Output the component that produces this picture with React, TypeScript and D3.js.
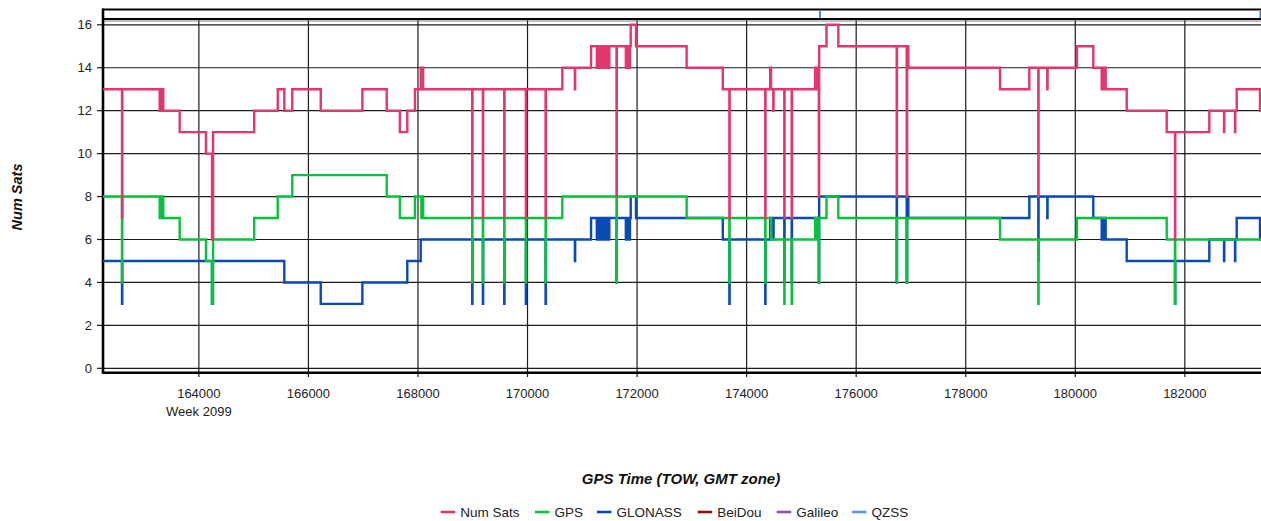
import React from 'react';
import * as d3 from 'd3';

// ---------- data ----------
const seriesNames = ['Num Sats', 'GPS', 'GLONASS', 'BeiDou', 'Galileo', 'QZSS'];
const seriesColors = ['#e0386a', '#0ac13e', '#0a4ab4', '#8b1414', '#8f4fc4', '#5f95e8'];
const yTicks = [0, 2, 4, 6, 8, 10, 12, 14, 16];
const xTicks = [164000, 166000, 168000, 170000, 172000, 174000, 176000, 178000, 180000, 182000];
const weekLabel = 'Week 2099';
const xTitle = 'GPS Time (TOW, GMT zone)';
const yTitle = 'Num Sats';

// step points [GPS time of week, satellite count]
const numSatsSteps: [number, number][] = [
  [162250, 13], [162597, 7], [162602, 13],
  [163285, 12], [163300, 13], [163315, 12], [163330, 13], [163350, 12],
  [163650, 11], [164130, 10], [164240, 6], [164260, 11],
  [165010, 12], [165440, 13], [165560, 12], [165705, 13], [166225, 12],
  [166985, 13], [167430, 12], [167670, 11], [167805, 12], [167945, 13],
  [168050, 14], [168062, 13], [168075, 14], [168095, 13],
  [168990, 7], [168995, 13], [169185, 7], [169190, 13], [169575, 7], [169580, 13],
  [169970, 7], [169975, 13], [170330, 7], [170335, 13],
  [170635, 14], [170865, 13], [170870, 14], [171160, 15],
  [171265, 14], [171290, 15], [171315, 14], [171340, 15], [171365, 14],
  [171390, 15], [171415, 14], [171440, 15], [171465, 14], [171493, 15],
  [171625, 8], [171630, 15],
  [171795, 14], [171820, 15], [171845, 14], [171870, 15],
  [171884, 16], [171980, 15], [172905, 14], [173565, 13],
  [173685, 7], [173690, 13], [174340, 7], [174345, 13],
  [174430, 14], [174445, 13], [174487, 12], [174492, 13],
  [174688, 7], [174693, 13], [174823, 7], [174828, 13],
  [175250, 14], [175265, 13], [175280, 14], [175295, 13], [175310, 14],
  [175318, 8], [175324, 15], [175458, 16], [175674, 15],
  [176740, 8], [176745, 15],
  [176922, 8], [176930, 14], [176938, 15], [176952, 14],
  [178626, 13], [179161, 14], [179325, 8], [179330, 14], [179489, 13], [179494, 14],
  [180031, 15], [180329, 14],
  [180482, 13], [180500, 14], [180518, 13], [180536, 14], [180555, 13],
  [180939, 12], [181669, 11], [181820, 6], [181825, 11],
  [182447, 12], [182715, 11], [182720, 12], [182916, 11], [182921, 12],
  [182947, 13], [183372, 12], [183500, 12],
];

const gpsSteps: [number, number][] = [
  [162250, 8], [162597, 4], [162602, 8],
  [163285, 7], [163300, 8], [163315, 7], [163330, 8], [163350, 7],
  [163650, 6], [164130, 5], [164240, 3], [164260, 6],
  [165010, 7], [165440, 8], [165705, 9], [167430, 8], [167670, 7],
  [167945, 8], [168062, 7], [168075, 8], [168095, 7],
  [168990, 4], [168995, 7], [169185, 4], [169190, 7], [169575, 4], [169580, 7],
  [169970, 4], [169975, 7], [170330, 4], [170335, 7],
  [170635, 8], [171625, 4], [171630, 8], [172905, 7],
  [173685, 4], [173690, 7], [174340, 4], [174345, 7],
  [174445, 6], [174688, 3], [174693, 6], [174823, 3], [174828, 6],
  [175250, 7], [175265, 6], [175280, 7], [175295, 6], [175310, 7],
  [175318, 4], [175324, 7], [175458, 8], [175674, 7],
  [176740, 4], [176745, 7], [176922, 4], [176930, 7],
  [178626, 6], [179325, 3], [179330, 6], [180031, 7],
  [181669, 6], [181820, 3], [181825, 6], [183500, 6],
];

const glonassSteps: [number, number][] = [
  [162250, 5], [162597, 3], [162602, 5], [164240, 3], [164245, 5],
  [165560, 4], [166225, 3], [166985, 4], [167805, 5], [168050, 6],
  [168990, 3], [168995, 6], [169185, 3], [169190, 6], [169575, 3], [169580, 6],
  [169970, 3], [169975, 6], [170330, 3], [170335, 6],
  [170865, 5], [170870, 6], [171160, 7],
  [171265, 6], [171290, 7], [171315, 6], [171340, 7], [171365, 6],
  [171390, 7], [171415, 6], [171440, 7], [171465, 6], [171493, 7],
  [171625, 4], [171630, 7],
  [171795, 6], [171820, 7], [171845, 6], [171870, 7],
  [171884, 8], [171980, 7], [173565, 6],
  [173685, 3], [173690, 6], [174340, 3], [174345, 6],
  [174430, 7], [174487, 6], [174492, 7],
  [174688, 4], [174693, 7], [174823, 4], [174828, 7],
  [175318, 4], [175324, 8],
  [176740, 4], [176745, 8], [176922, 4], [176930, 7], [176938, 8], [176952, 7],
  [179161, 8], [179325, 5], [179330, 8], [179489, 7], [179494, 8],
  [180329, 7],
  [180482, 6], [180500, 7], [180518, 6], [180536, 7], [180555, 6],
  [180939, 5], [181820, 3], [181825, 5],
  [182447, 6], [182715, 5], [182720, 6], [182916, 5], [182921, 6],
  [182947, 7], [183372, 6], [183500, 6],
];

const qzssMarks = [175340, 183380];

// ---------- layout ----------
const W = 1261;
const H = 521;
const LEFT = 103;
const RIGHT = 1267;
const TOP = 9.5;
const BOTTOM = 372.8;
const FONT = '"Liberation Sans", Arial, Helvetica, sans-serif';
const legendX = [440.7, 535, 597, 697.7, 776.7, 852];

export default function App() {
  const x = d3.scaleLinear().domain([162250, 183500]).range([LEFT, RIGHT]);
  const y = d3.scaleLinear().domain([0, 16]).range([368.3, 24.8]);
  const line = d3
    .line<[number, number]>()
    .x((d) => x(d[0]))
    .y((d) => y(d[1]))
    .curve(d3.curveStepAfter);

  const drawOrder: { data: [number, number][]; color: string }[] = [
    { data: glonassSteps, color: seriesColors[2] },
    { data: gpsSteps, color: seriesColors[1] },
    { data: numSatsSteps, color: seriesColors[0] },
  ];

  return (
    <svg
      width={W}
      height={H}
      style={{ position: 'absolute', left: 0, top: 0, background: '#fff' }}
      fontFamily={FONT}
    >
      <defs>
        <clipPath id="plotClip">
          <rect x={LEFT} y={20} width={RIGHT - LEFT} height={BOTTOM - 20} />
        </clipPath>
      </defs>

      {/* horizontal grid */}
      {yTicks.map((t) => (
        <g key={'y' + t}>
          <line x1={LEFT} x2={W} y1={y(t)} y2={y(t)} stroke="#1c1c1c" strokeWidth={1.2} />
          <line x1={97} x2={LEFT} y1={y(t)} y2={y(t)} stroke="#1c1c1c" strokeWidth={1.2} />
          <text x={92} y={y(t)} dy="0.35em" textAnchor="end" fontSize={13} fill="#222">
            {t}
          </text>
        </g>
      ))}

      {/* vertical grid */}
      {xTicks.map((t, i) => (
        <g key={'x' + t}>
          <line x1={x(t)} x2={x(t)} y1={19} y2={377} stroke="#1c1c1c" strokeWidth={1.2} />
          <text x={x(t)} y={398} textAnchor="middle" fontSize={13} fill="#222">
            {t}
          </text>
          {i === 0 && (
            <text x={x(t)} y={415.5} textAnchor="middle" fontSize={13} fill="#222">
              {weekLabel}
            </text>
          )}
        </g>
      ))}

      {/* frame */}
      <line x1={LEFT} x2={W} y1={TOP} y2={TOP} stroke="#000" strokeWidth={2.2} />
      <line x1={LEFT} x2={W} y1={19} y2={19} stroke="#000" strokeWidth={2.2} />
      <line x1={LEFT} x2={W} y1={21} y2={21} stroke="#666" strokeWidth={0.8} />
      <line x1={LEFT} x2={W} y1={BOTTOM} y2={BOTTOM} stroke="#000" strokeWidth={2.4} />
      <line x1={LEFT} x2={LEFT} y1={TOP - 1} y2={BOTTOM + 1} stroke="#000" strokeWidth={2.6} />

      {/* QZSS marks in top band */}
      {qzssMarks.map((t) => (
        <line key={'q' + t} x1={x(t)} x2={x(t)} y1={11} y2={18} stroke="#1f6fd8" strokeWidth={1.6} />
      ))}

      {/* series */}
      <g clipPath="url(#plotClip)">
        {drawOrder.map((s, i) => (
          <path
            key={i}
            d={line(s.data) || ''}
            fill="none"
            stroke={s.color}
            strokeWidth={2.4}
            strokeLinejoin="miter"
          />
        ))}
      </g>

      {/* axis titles */}
      <text
        transform={`translate(22,197) rotate(-90)`}
        textAnchor="middle"
        fontSize={14.5}
        fontWeight="bold"
        fontStyle="italic"
        fill="#111"
      >
        {yTitle}
      </text>
      <text x={681} y={483.5} textAnchor="middle" fontSize={15} fontWeight="bold" fontStyle="italic" fill="#111">
        {xTitle}
      </text>

      {/* legend */}
      {seriesNames.map((n, i) => (
        <g key={n}>
          <line
            x1={legendX[i]}
            x2={legendX[i] + 14.5}
            y1={512}
            y2={512}
            stroke={seriesColors[i]}
            strokeWidth={2.6}
          />
          <text x={legendX[i] + 19.5} y={516.5} fontSize={13.5} fill="#222">
            {n}
          </text>
        </g>
      ))}
    </svg>
  );
}
